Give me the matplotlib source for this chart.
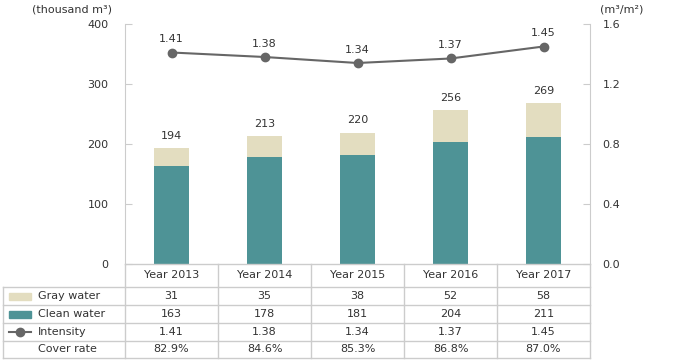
import matplotlib.pyplot as plt
from matplotlib.patches import Rectangle
from matplotlib.lines import Line2D

years = ['Year 2013', 'Year 2014', 'Year 2015', 'Year 2016', 'Year 2017']
gray_water = [31, 35, 38, 52, 58]
clean_water = [163, 178, 181, 204, 211]
totals = [194, 213, 220, 256, 269]
intensity = [1.41, 1.38, 1.34, 1.37, 1.45]
cover_rate = ['82.9%', '84.6%', '85.3%', '86.8%', '87.0%']

GRAY = '#e3ddc0'
CLEAN = '#4e9396'
LINE = '#666666'
GRID = '#cccccc'
TXT = '#333333'

W, H = 676, 362
fig = plt.figure(figsize=(W / 100, H / 100), dpi=100)
plt.rcParams['font.family'] = ['DejaVu Sans']

# pixel layout
x0, x1 = 125, 590
y_top, y_bot = 24, 264
ax = fig.add_axes([x0 / W, 1 - y_bot / H, (x1 - x0) / W, (y_bot - y_top) / H])
ax2 = ax.twinx()

xs = list(range(len(years)))
ax.bar(xs, clean_water, width=0.38, color=CLEAN, zorder=2)
ax.bar(xs, gray_water, width=0.38, bottom=clean_water, color=GRAY, zorder=2)
for x, t in zip(xs, totals):
    ax.annotate(str(t), (x, t), xytext=(0, 5), textcoords='offset points',
                ha='center', va='bottom', fontsize=8, color=TXT)

ax.set_xlim(-0.5, len(years) - 0.5)
ax.set_ylim(0, 400)
ax.set_yticks([0, 100, 200, 300, 400])
ax2.set_ylim(0, 1.6)
ax2.set_yticks([0, 0.4, 0.8, 1.2, 1.6])
ax2.set_yticklabels(['0.0', '0.4', '0.8', '1.2', '1.6'])

ax2.plot(xs, intensity, color=LINE, lw=1.5, marker='o', ms=6, zorder=3)
for x, v in zip(xs, intensity):
    ax2.annotate(f'{v:.2f}', (x, v), xytext=(0, 6), textcoords='offset points',
                 ha='center', va='bottom', fontsize=8, color=TXT)

for a in (ax, ax2):
    for s in a.spines.values():
        s.set_visible(False)
    a.set_xticks([])
    a.tick_params(axis='y', direction='in', length=5, color=GRID, labelsize=8,
                  labelcolor=TXT, pad=12)
ax.spines['left'].set_visible(True)
ax.spines['left'].set_color(GRID)
ax2.spines['right'].set_visible(True)
ax2.spines['right'].set_color(GRID)
ax.tick_params(axis='y', pad=12)
ax2.tick_params(axis='y', pad=9)

fig.text(112 / W, 1 - 10 / H, '(thousand m³)', ha='right', va='center', fontsize=8, color=TXT)
fig.text(600 / W, 1 - 10 / H, '(m³/m²)', ha='left', va='center', fontsize=8, color=TXT)

# table below
tx0 = 3
rows_y = [264, 287, 305, 323, 341, 358]
tab = fig.add_axes([tx0 / W, 1 - rows_y[-1] / H, (x1 - tx0) / W, (rows_y[-1] - rows_y[0]) / H])
col_w = (x1 - x0) / len(years)
left_units = (x0 - tx0) / col_w
tab.set_xlim(-0.5 - left_units, len(years) - 0.5)
tab.set_ylim(rows_y[-1], rows_y[0])
tab.axis('off')

# grid lines
for i, y in enumerate(rows_y):
    xa = -0.5 if i == 0 else -0.5 - left_units
    tab.plot([xa, len(years) - 0.5], [y, y], color=GRID, lw=1, clip_on=False)
for k in range(len(years) + 1):
    tab.plot([k - 0.5, k - 0.5], [rows_y[0], rows_y[-1]], color=GRID, lw=1, clip_on=False)
tab.plot([-0.5 - left_units] * 2, [rows_y[1], rows_y[-1]], color=GRID, lw=1, clip_on=False)

def mid(i):
    return (rows_y[i] + rows_y[i + 1]) / 2

for x, yr in zip(xs, years):
    tab.text(x, mid(0), yr, ha='center', va='center', fontsize=8, color=TXT)

row_vals = [gray_water, clean_water, [f'{v:.2f}' for v in intensity], cover_rate]
row_names = ['Gray water', 'Clean water', 'Intensity', 'Cover rate']
lab_x = -0.5 - left_units + 35 / col_w
for r, (name, vals) in enumerate(zip(row_names, row_vals)):
    y = mid(r + 1)
    tab.text(lab_x, y, name, ha='left', va='center', fontsize=8, color=TXT)
    for x, v in zip(xs, vals):
        tab.text(x, y, str(v), ha='center', va='center', fontsize=8, color=TXT)

# legend keys
kx = -0.5 - left_units + 6 / col_w
kw = 22 / col_w
tab.add_patch(Rectangle((kx, mid(1) - 3.5), kw, 7, color=GRAY))
tab.add_patch(Rectangle((kx, mid(2) - 3.5), kw, 7, color=CLEAN))
tab.add_line(Line2D([kx, kx + kw], [mid(3), mid(3)], color=LINE, lw=1.5))
tab.plot([kx + kw / 2], [mid(3)], marker='o', ms=6, color=LINE)

fig.savefig('out.png', dpi=100)
